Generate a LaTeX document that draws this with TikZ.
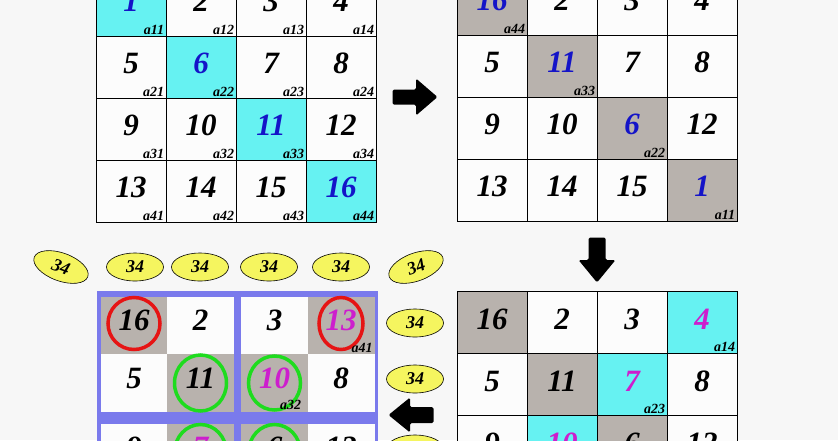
\documentclass[tikz,border=0pt]{standalone}
\usepackage{fontspec}
\setmainfont{Liberation Serif}
\usetikzlibrary{shapes.geometric}

\definecolor{cellcyan}{RGB}{102,242,242}
\definecolor{cellgray}{RGB}{184,178,173}
\definecolor{cellwhite}{RGB}{252,252,252}
\definecolor{pagebg}{RGB}{247,247,247}
\definecolor{numblue}{RGB}{20,20,200}
\definecolor{nummag}{RGB}{205,30,205}
\definecolor{ringred}{RGB}{230,20,20}
\definecolor{ringgreen}{RGB}{30,220,30}
\definecolor{frameblue}{RGB}{122,122,236}
\definecolor{sumyellow}{RGB}{245,245,95}

\tikzset{
  cellbox/.style={draw=black, line width=0.8pt, minimum width=70pt, minimum height=62pt, inner sep=0pt},
  flatcell/.style={minimum width=67pt, minimum height=58pt, inner sep=0pt},
  numtext/.style={font=\fontsize{31}{31}\selectfont\bfseries\itshape, inner sep=0pt},
  subtext/.style={font=\fontsize{14}{14}\selectfont\bfseries\itshape, anchor=south east, inner sep=2pt},
  sumoval/.style={ellipse, draw=black, line width=0.6pt, fill=sumyellow, minimum width=57pt, minimum height=28pt, inner sep=0pt, font=\fontsize{18}{18}\selectfont\bfseries\itshape},
  blockarrow/.style={fill=black, rounded corners=1.5pt},
  ring/.style={line width=3.5pt}
}

\begin{document}
\begin{tikzpicture}[x=1pt, y=-1pt]
        % 画布与背景
        \useasboundingbox (0,0) rectangle (838,440);
        \clip (0,0) rectangle (838,440);
        \fill[pagebg] (0,0) rectangle (838,440);

        % 左上方阵(原方阵)
        \foreach \num/\bg/\tc [count=\k from 0] in {1/cellcyan/numblue, 2/cellwhite/black, 3/cellwhite/black, 4/cellwhite/black,
                5/cellwhite/black, 6/cellcyan/numblue, 7/cellwhite/black, 8/cellwhite/black,
                9/cellwhite/black, 10/cellwhite/black, 11/cellcyan/numblue, 12/cellwhite/black,
                13/cellwhite/black, 14/cellwhite/black, 15/cellwhite/black, 16/cellcyan/numblue} {
            \pgfmathtruncatemacro\gr{\k/4+1}
            \pgfmathtruncatemacro\gc{mod(\k,4)+1}
            \node[cellbox, fill=\bg] (tl\gr\gc) at ({61+70*\gc},{-57+62*\gr}) {};
            \node[numtext, text=\tc] (tl\gr\gc n) at ([yshift=4pt]tl\gr\gc.center) {\num};
            \node[subtext] (tl\gr\gc s) at (tl\gr\gc.south east) {a\gr\gc};
        }

        % 右上方阵(主对角线互换)
        \foreach \num/\bg/\tc [count=\k from 0] in {16/cellgray/numblue, 2/cellwhite/black, 3/cellwhite/black, 4/cellwhite/black,
                5/cellwhite/black, 11/cellgray/numblue, 7/cellwhite/black, 8/cellwhite/black,
                9/cellwhite/black, 10/cellwhite/black, 6/cellgray/numblue, 12/cellwhite/black,
                13/cellwhite/black, 14/cellwhite/black, 15/cellwhite/black, 1/cellgray/numblue} {
            \pgfmathtruncatemacro\gr{\k/4+1}
            \pgfmathtruncatemacro\gc{mod(\k,4)+1}
            \node[cellbox, fill=\bg] (tr\gr\gc) at ({422+70*\gc},{-58+62*\gr}) {};
            \node[numtext, text=\tc] (tr\gr\gc n) at ([yshift=4pt]tr\gr\gc.center) {\num};
        }
        \node[subtext] (tr11s) at (tr11.south east) {a44};
        \node[subtext] (tr22s) at (tr22.south east) {a33};
        \node[subtext] (tr33s) at (tr33.south east) {a22};
        \node[subtext] (tr44s) at (tr44.south east) {a11};

        % 右下方阵(副对角线)
        \foreach \num/\bg/\tc [count=\k from 0] in {16/cellgray/black, 2/cellwhite/black, 3/cellwhite/black, 4/cellcyan/nummag,
                5/cellwhite/black, 11/cellgray/black, 7/cellcyan/nummag, 8/cellwhite/black,
                9/cellwhite/black, 10/cellcyan/nummag, 6/cellgray/black, 12/cellwhite/black} {
            \pgfmathtruncatemacro\gr{\k/4+1}
            \pgfmathtruncatemacro\gc{mod(\k,4)+1}
            \node[cellbox, fill=\bg] (br\gr\gc) at ({422+70*\gc},{260+62*\gr}) {};
            \node[numtext, text=\tc] (br\gr\gc n) at ([yshift=3pt]br\gr\gc.center) {\num};
        }
        \node[subtext] (br14s) at (br14.south east) {a14};
        \node[subtext] (br23s) at (br23.south east) {a23};

        % 左下方阵(结果)
        \fill[frameblue] (97,291) rectangle (378,445);
        \foreach \num/\bg/\tc [count=\k from 0] in {16/cellgray/black, 2/cellwhite/black, 3/cellwhite/black, 13/cellgray/nummag,
                5/cellwhite/black, 11/cellgray/black, 10/cellgray/nummag, 8/cellwhite/black,
                9/cellwhite/black, 7/cellgray/nummag, 6/cellgray/black, 12/cellwhite/black} {
            \pgfmathtruncatemacro\gr{\k/4+1}
            \pgfmathtruncatemacro\gc{mod(\k,4)+1}
            \pgfmathsetmacro\bx{134+66.5*(\gc-1)+7.5*(\gc>2)}
            \pgfmathsetmacro\by{325.5+57.5*(\gr-1)+12*(\gr>2)}
            \node[flatcell, fill=\bg] (bl\gr\gc) at (\bx,\by) {};
            \node[numtext, text=\tc] (bl\gr\gc n) at ([yshift=5pt]bl\gr\gc.center) {\num};
        }
        \draw[ring, draw=ringred] ([yshift=2pt]bl11) ellipse [x radius=26pt, y radius=26pt];
        \draw[ring, draw=ringred] ([yshift=2pt]bl14) ellipse [x radius=22pt, y radius=26pt];
        \draw[ring, draw=ringgreen] (bl22) ellipse [x radius=26pt, y radius=28pt];
        \draw[ring, draw=ringgreen] (bl23) ellipse [x radius=26pt, y radius=27pt];
        \draw[ring, draw=ringgreen] (bl32) ellipse [x radius=26pt, y radius=28pt];
        \draw[ring, draw=ringgreen] (bl33) ellipse [x radius=26pt, y radius=28pt];
        \node[subtext] (bl14s) at (bl14.south east) {a41};
        \node[subtext] (bl23s) at ([xshift=-5pt]bl23.south east) {a32};

        % 行、列与对角线之和
        \node[sumoval, rotate=-20] (sum0) at (61,267) {34};
        \foreach \sx [count=\i] in {135,200,269,341}
            \node[sumoval] (sum\i) at (\sx,267) {34};
        \node[sumoval, rotate=20] (sum5) at (416,267) {34};
        \foreach \sy [count=\i] in {323,379,449}
            \node[sumoval] (side\i) at (415,\sy) {34};

        % 箭头
        \fill[blockarrow, shift={(415,97)}] (-22.5,-7.5) -- (1,-7.5) -- (1,-18.5) -- (22.5,0) -- (1,18.5) -- (1,7.5) -- (-22.5,7.5) -- cycle;
        \fill[blockarrow, shift={(597,260)}, rotate=-90] (-22.5,-8.5) -- (0,-8.5) -- (0,-18.5) -- (22.5,0) -- (0,18.5) -- (0,8.5) -- (-22.5,8.5) -- cycle;
        \fill[blockarrow, shift={(411,415)}, rotate=180] (-22.5,-8) -- (1,-8) -- (1,-17.5) -- (22.5,0) -- (1,17.5) -- (1,8) -- (-22.5,8) -- cycle;
    \end{tikzpicture}
\end{document}
